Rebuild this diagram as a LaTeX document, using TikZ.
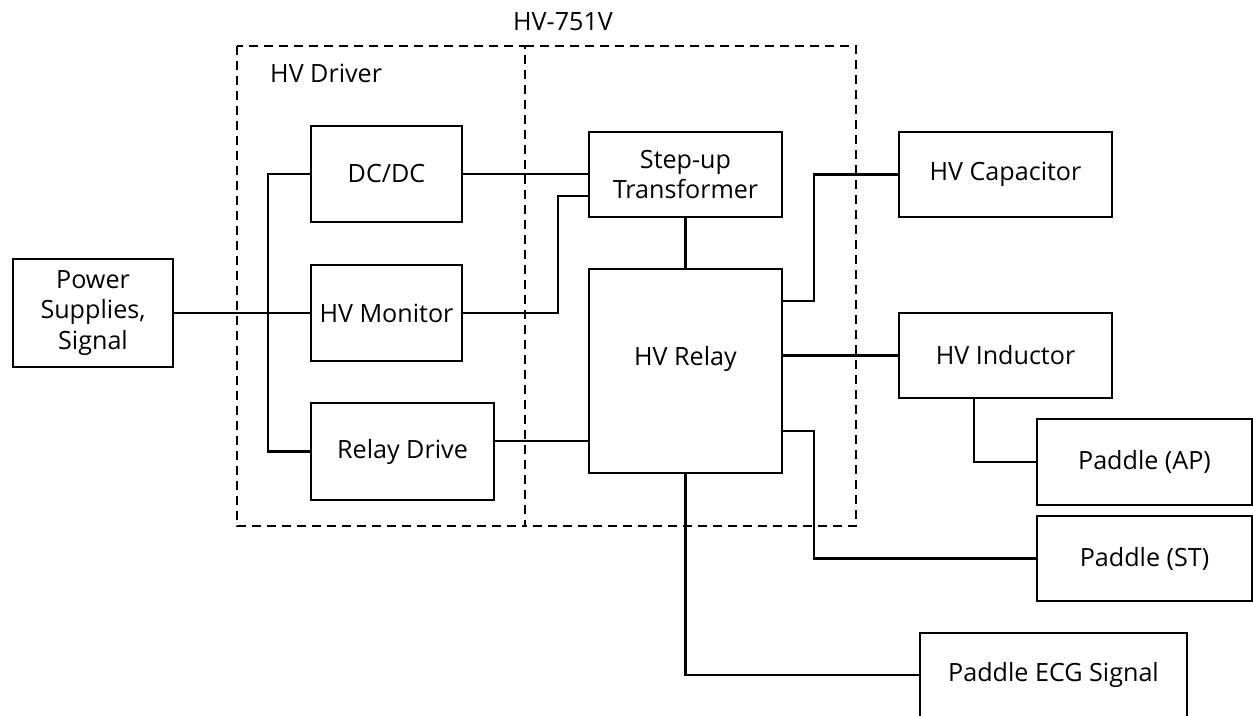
\documentclass[tikz,border=0pt]{standalone}
\usepackage{fontspec}
\setmainfont{Open Sans}
\usetikzlibrary{calc}
\definecolor{lineA}{RGB}{0, 0, 0}

\tikzset{
  blk/.style 2 args={draw=lineA, line width=1.4pt, minimum width=#1*0.02cm,
    minimum height=#2*0.02cm, inner sep=0pt, align=center,
    font=\fontsize{14.3}{17.5}\selectfont},
  txt/.style={font=\fontsize{14.3}{17.5}\selectfont},
  wire/.style={draw=lineA, line width=1.3pt},
  group/.style={draw=lineA, line width=1.3pt, dash pattern=on 0.18cm off 0.12cm}
}

\begin{document}
\begin{tikzpicture}[x=0.02cm, y=-0.02cm]
  \useasboundingbox (0,0) rectangle (1253,716);

  % dashed groups
  \path[group] (237,46) rectangle (525,526);
  \path[group] (525,46) -- (856,46) -- (856,526) -- (525,526);
  \node[txt, anchor=base west] (drvlabel) at (264,83) {HV Driver};
  \node[txt, anchor=base] (hvlabel) at (563,31) {HV-751V};

  \node[blk={160}{108}] (psu) at (93,313) {Power\\Supplies,\\Signal};

  \node[blk={151}{96}] (dcdc) at (386.5,174) {DC/DC};
  \node[blk={151}{96}] (mon)  at (386.5,313) {HV Monitor};
  \node[blk={183}{97}] (rdrv) at (402.5,451.5) {Relay Drive};

  \node[blk={193}{85}]  (stepup) at (685.5,174.5) {Step-up\\Transformer};
  \node[blk={193}{204}] (relay)  at (685.5,371) {};
  \node[txt] (relaytxt) at (685.5,359) {HV Relay};

  \node[blk={213}{85}] (cap) at (1005.5,174.5) {HV Capacitor};
  \node[blk={213}{85}] (ind) at (1005.5,355.5) {HV Inductor};
  \node[blk={215}{86}] (ap)  at (1144.5,462) {Paddle (AP)};
  \node[blk={215}{85}] (st)  at (1144.5,558.5) {Paddle (ST)};
  \node[blk={267}{84}] (ecg) at (1053.5,675) {Paddle ECG Signal};

  % driver side
  \path[wire] (psu.east) -- (mon.west);
  \path[wire] (dcdc.west) -- ++(-42,0) |- (rdrv.west);
  \path[wire] (dcdc.east) -- (dcdc.east -| stepup.west);
  \path[wire] (mon.east) -- ++(95,0) |- ($(stepup.west)+(0,21.5)$);
  \path[wire] ($(rdrv.east)+(0,-10.5)$) -- ($(relay.west)+(0,70)$);
  \path[wire] (stepup.south) -- (relay.north);

  % relay outputs
  \path[wire] ($(relay.north east)+(0,33)$) -- ++(31,0) |- (cap.west);
  \path[wire] (ind.west -| relay.east) -- (ind.west);
  \path[wire] ($(ind.south)+(-31.5,0)$) |- (ap.west);
  \path[wire] ($(relay.south east)+(0,-43)$) -- ++(31,0) |- (st.west);
  \path[wire] (relay.south) |- (ecg.west);

\end{tikzpicture}
\end{document}
